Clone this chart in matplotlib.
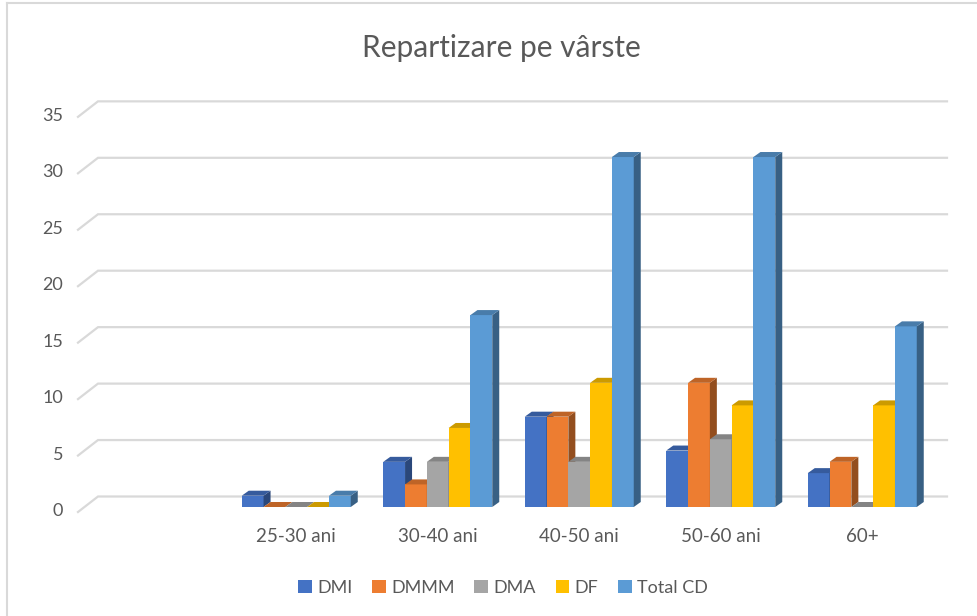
import numpy as np
import matplotlib
matplotlib.use('Agg')
import matplotlib.pyplot as plt
from matplotlib.patches import Polygon, Rectangle
from matplotlib.lines import Line2D

# Data (first category is empty in the original chart)
categories = ['', '25-30 ani', '30-40 ani', '40-50 ani', '50-60 ani', '60+']
series_names = ['DMI', 'DMMM', 'DMA', 'DF', 'Total CD']
dmi = [None, 1, 4, 8, 5, 3]
dmmm = [None, 0, 2, 8, 11, 4]
dma = [None, 0, 4, 4, 6, 0]
df = [None, 0, 7, 11, 9, 9]
total_cd = [None, 1, 17, 31, 31, 16]
y_ticks = [0, 5, 10, 15, 20, 25, 30, 35]

series = [dmi, dmmm, dma, df, total_cd]
colors = ['#4472C4', '#ED7D31', '#A5A5A5', '#FFC000', '#5B9BD5']


def shade(c, f):
    rgb = np.array(matplotlib.colors.to_rgb(c)) * f
    return tuple(rgb)


W, H = 977, 616
fig = plt.figure(figsize=(W / 100, H / 100), dpi=100)
fig.patch.set_facecolor('white')

# front plane of the plot area in pixels
x_left, x_right = 84, 933
y_base, px_per_unit = 507, 11.29
y_top = y_base - 35 * px_per_unit
ax = fig.add_axes([x_left / W, (H - y_base) / H, (x_right - x_left) / W, (y_base - y_top) / H])
ax.set_xlim(-0.5, 5.5)
ax.set_ylim(0, 35)
ax.axis('off')

px_x = 1.0 / ((x_right - x_left) / 6)   # category units per pixel
px_y = 1.0 / px_per_unit               # value units per pixel

grid_col = '#D9D9D9'
text_col = '#595959'

# wall gridlines with the little diagonal at the front
for v in y_ticks:
    xf = -0.5 + (78 - x_left) * px_x
    xb = -0.5 + (98 - x_left) * px_x
    xe = -0.5 + (947 - x_left) * px_x
    yf = v - 5 * px_y
    yb = v + 10.5 * px_y
    ax.plot([xf, xb, xe], [yf, yb, yb], color=grid_col, lw=1.6, clip_on=False, zorder=1,
            solid_joinstyle='miter')
    ax.text(-0.5 + (63 - x_left) * px_x, v - 4 * px_y, str(v), ha='right', va='center',
            fontsize=13, color=text_col, family='Lato')

# 3D-looking bars
bw = 21.8 * px_x
dx = 7 * px_x
dy = 5 * px_y
n = len(series)
for i in range(len(categories)):
    for s in range(n):
        val = series[s][i]
        if val is None:
            continue
        x0 = i - n * bw / 2 + s * bw
        c = colors[s]
        z = 3 + s * 0.01
        if val > 0:
            ax.add_patch(Rectangle((x0, 0), bw, val, facecolor=c, edgecolor='none', zorder=z))
            ax.add_patch(Polygon([(x0 + bw, 0), (x0 + bw + dx, dy), (x0 + bw + dx, val + dy),
                                  (x0 + bw, val)], closed=True, facecolor=shade(c, 0.62),
                                 edgecolor='none', zorder=z))
        ax.add_patch(Polygon([(x0, val), (x0 + bw, val), (x0 + bw + dx, val + dy), (x0 + dx, val + dy)],
                             closed=True, facecolor=shade(c, 0.8), edgecolor='none', zorder=z))
    if categories[i]:
        ax.text(i, -2.6, categories[i], ha='center', va='center', fontsize=13.5,
                color=text_col, family='Lato')

# title
fig.text(501 / W, 1 - 48 / H, 'Repartizare pe vârste', ha='center', va='center',
         fontsize=21.5, color=text_col, family='Lato')

# legend
handles = [Rectangle((0, 0), 1, 1, facecolor=c, edgecolor='none') for c in colors]
fig.legend(handles, series_names, loc='center', bbox_to_anchor=(503 / W, 1 - 588 / H), ncol=5,
           frameon=False, handlelength=0.75, handleheight=0.75, handletextpad=0.3,
           columnspacing=1.1, prop={'family': 'Lato', 'size': 13}, labelcolor=text_col)

# chart border (left and top visible)
fig.add_artist(Line2D([7 / W, 7 / W], [0, 1 - 3 / H], color='#D9D9D9', lw=1.5))
fig.add_artist(Line2D([7 / W, 1], [1 - 3 / H, 1 - 3 / H], color='#D9D9D9', lw=1.5))

fig.savefig('out.png', dpi=100)
